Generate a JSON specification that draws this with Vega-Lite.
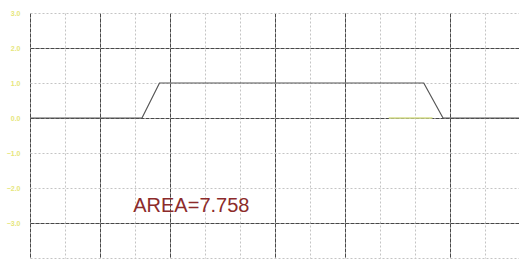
{
  "$schema": "https://vega.github.io/schema/vega-lite/v6.json",
  "width": 490,
  "height": 245,
  "autosize": {"type": "none"},
  "padding": {"left": 30, "top": 13, "right": 0, "bottom": 3},
  "background": "white",
  "config": {"view": {"stroke": null}, "font": "Liberation Sans"},
  "datasets": {
    "trace": [
      {"t": 0, "v": 0},
      {"t": 3.2, "v": 0},
      {"t": 3.7, "v": 1},
      {"t": 11.25, "v": 1},
      {"t": 11.8, "v": 0},
      {"t": 14, "v": 0}
    ],
    "seg": [
      {"t": 10.25, "v": 0},
      {"t": 11.5, "v": 0}
    ],
    "note": [
      {"t": 2.95, "v": -2.5, "label": "AREA=7.758"}
    ]
  },
  "layer": [
    {
      "data": {"name": "trace"},
      "mark": {"type": "line", "strokeWidth": 0, "opacity": 0},
      "encoding": {
        "x": {"field": "t", "type": "quantitative", "scale": {"domain": [0, 14], "nice": false},
          "axis": {"values": [0,1,2,3,4,5,6,7,8,9,10,11,12,13,14], "grid": true, "gridColor": "#c4c4c4", "gridDash": [2, 2], "gridWidth": 1, "labels": false, "ticks": false, "domain": false, "title": null}},
        "y": {"field": "v", "type": "quantitative", "scale": {"domain": [-4, 3], "nice": false},
          "axis": {"orient": "left", "values": [-4,-3,-2,-1,0,1,2,3], "grid": true, "gridColor": "#c4c4c4", "gridDash": [2, 2], "gridWidth": 1, "labels": false, "ticks": false, "domain": false, "title": null}}
      }
    },
    {
      "data": {"name": "trace"},
      "mark": {"type": "line", "strokeWidth": 0, "opacity": 0},
      "encoding": {
        "x": {"field": "t", "type": "quantitative",
          "axis": {"orient": "bottom", "values": [0, 2, 4, 7, 9, 12], "grid": true, "gridColor": "#484848", "gridDash": [4, 1], "gridWidth": 1, "labels": false, "ticks": false, "domain": false, "title": null}},
        "y": {"field": "v", "type": "quantitative",
          "axis": {"orient": "left", "values": [-3, -2, -1, 0, 1, 2, 3], "grid": false, "labels": true, "labelColor": "#e6e67a", "labelFontSize": 7, "labelFontWeight": "bold", "labelPadding": 10, "ticks": false, "domain": false, "title": null, "labelExpr": "format(datum.value, '.1f')"}}
      }
    },
    {
      "data": {"name": "trace"},
      "mark": {"type": "line", "strokeWidth": 0, "opacity": 0},
      "encoding": {
        "x": {"field": "t", "type": "quantitative", "axis": null},
        "y": {"field": "v", "type": "quantitative",
          "axis": {"orient": "left", "values": [-3, 0, 2], "grid": true, "gridColor": "#484848", "gridDash": [4, 1], "gridWidth": 1, "labels": false, "ticks": false, "domain": false, "title": null}}
      }
    },
    {
      "data": {"name": "trace"},
      "mark": {"type": "line", "color": "#555555", "strokeWidth": 1.2},
      "encoding": {
        "x": {"field": "t", "type": "quantitative", "axis": null},
        "y": {"field": "v", "type": "quantitative", "axis": null}
      }
    },
    {
      "data": {"name": "seg"},
      "mark": {"type": "line", "color": "#d6df8a", "strokeWidth": 1.5},
      "encoding": {
        "x": {"field": "t", "type": "quantitative", "axis": null},
        "y": {"field": "v", "type": "quantitative", "axis": null}
      }
    },
    {
      "data": {"name": "note"},
      "mark": {"type": "text", "align": "left", "baseline": "middle", "fontSize": 20, "color": "#8c2b2b", "font": "Liberation Sans"},
      "encoding": {
        "x": {"field": "t", "type": "quantitative", "axis": null},
        "y": {"field": "v", "type": "quantitative", "axis": null},
        "text": {"field": "label"}
      }
    }
  ],
  "resolve": {"axis": {"x": "independent", "y": "independent"}}
}
